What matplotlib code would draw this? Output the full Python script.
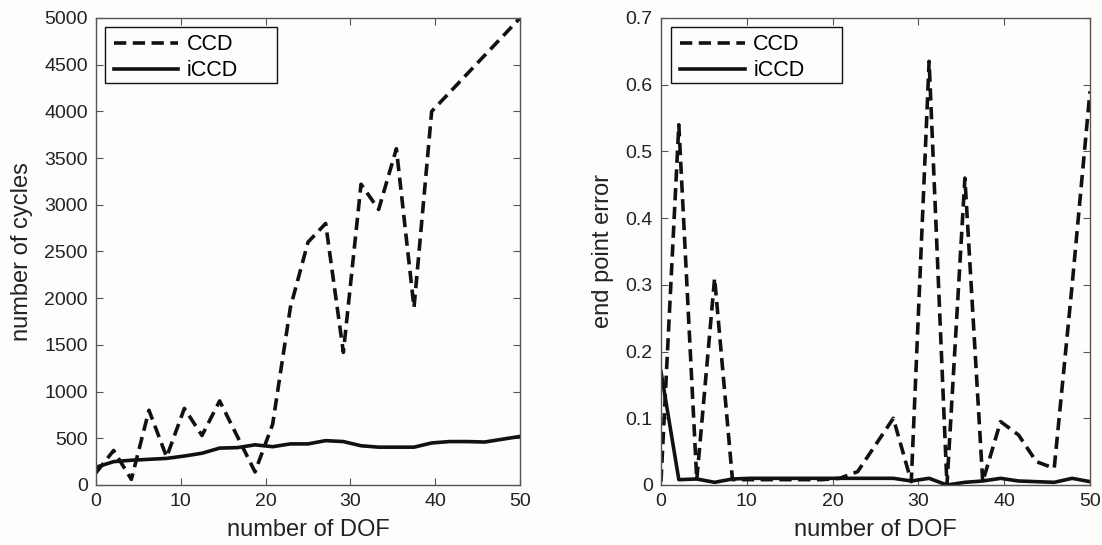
import numpy as np
import matplotlib
matplotlib.use("Agg")
import matplotlib.pyplot as plt
from matplotlib.patches import Rectangle

plt.rcParams['font.family'] = ['Liberation Sans', 'DejaVu Sans']

# DOF sample positions (25 samples from 0 to 50)
dof = [0, 2.08, 4.17, 6.25, 8.33, 10.42, 12.5, 14.58, 16.67, 18.75, 20.83,
       22.92, 25.0, 27.08, 29.17, 31.25, 33.33, 35.42, 37.5, 39.58, 41.67,
       43.75, 45.83, 47.92, 50.0]

cycles_ccd = [130, 370, 60, 800, 300, 820, 530, 900, 520, 140, 650,
              1900, 2600, 2800, 1420, 3220, 2950, 3600, 1900, 4000, 4200,
              4400, 4600, 4800, 5000]
cycles_iccd = [190, 250, 265, 275, 285, 310, 340, 395, 400, 430, 410,
               440, 440, 475, 465, 420, 405, 405, 405, 450, 465,
               465, 460, 490, 520]

err_ccd = [0.005, 0.54, 0.008, 0.31, 0.008, 0.008, 0.008, 0.008, 0.008, 0.008, 0.01,
           0.02, 0.06, 0.10, 0.005, 0.635, 0.0, 0.46, 0.005, 0.095, 0.075,
           0.035, 0.025, 0.30, 0.59]
err_iccd = [0.17, 0.008, 0.009, 0.004, 0.009, 0.01, 0.01, 0.01, 0.01, 0.01, 0.01,
            0.01, 0.01, 0.01, 0.006, 0.01, 0.0, 0.004, 0.006, 0.01, 0.006,
            0.005, 0.004, 0.01, 0.005]

series_labels = ['CCD', 'iCCD']
x_label = 'number of DOF'
y_labels = ['number of cycles', 'end point error']

bg = '#fdfdfb'
fig = plt.figure(figsize=(11.02, 5.45), dpi=100)
fig.patch.set_facecolor(bg)
ax1 = fig.add_axes([0.0871, 0.1101, 0.3848, 0.8569])
ax2 = fig.add_axes([0.5998, 0.1101, 0.3893, 0.8569])

dash = (0, (3.4, 1.8))
lw = 2.6
for ax, ccd, iccd, ylab, box in [
        (ax1, cycles_ccd, cycles_iccd, y_labels[0], (0.0212, 0.8608, 0.4057, 0.1199)),
        (ax2, err_ccd, err_iccd, y_labels[1], (0.0233, 0.8608, 0.3986, 0.1199))]:
    ax.set_facecolor(bg)
    ax.plot(dof, ccd, color='#111111', lw=lw, linestyle=dash, label=series_labels[0])
    ax.plot(dof, iccd, color='#111111', lw=lw, linestyle='-', label=series_labels[1])
    ax.set_xlim(0, 50)
    ax.set_xticks([0, 10, 20, 30, 40, 50])
    ax.tick_params(direction='in', top=True, right=True, length=5, width=0.8,
                   color='#555555', labelsize=14, labelcolor='#222222', pad=6)
    for s in ax.spines.values():
        s.set_color('#555555')
        s.set_linewidth(1.0)
    ax.set_xlabel(x_label, fontsize=17, color='#222222', labelpad=6)
    ax.set_ylabel(ylab, fontsize=17, color='#222222', labelpad=8)
    # legend frame (MATLAB-style box with extra right padding)
    rect = Rectangle((box[0], box[1]), box[2], box[3], transform=ax.transAxes,
                     facecolor=bg, edgecolor='#111111', linewidth=1.0, zorder=4)
    ax.add_patch(rect)
    leg = ax.legend(loc='upper left', bbox_to_anchor=(box[0] + 0.021, 0.965),
                    fontsize=15.5, handlelength=3.0, frameon=False,
                    borderaxespad=0, borderpad=0, labelspacing=0.22,
                    handletextpad=0.4)
    leg.set_zorder(5)

ax1.set_ylim(0, 5000)
ax1.set_yticks(np.arange(0, 5001, 500))
ax2.set_ylim(0, 0.7)
ax2.set_yticks([0, 0.1, 0.2, 0.3, 0.4, 0.5, 0.6, 0.7])
ax2.set_yticklabels(['0', '0.1', '0.2', '0.3', '0.4', '0.5', '0.6', '0.7'])

fig.savefig('out.png', dpi=100, facecolor=fig.get_facecolor())
